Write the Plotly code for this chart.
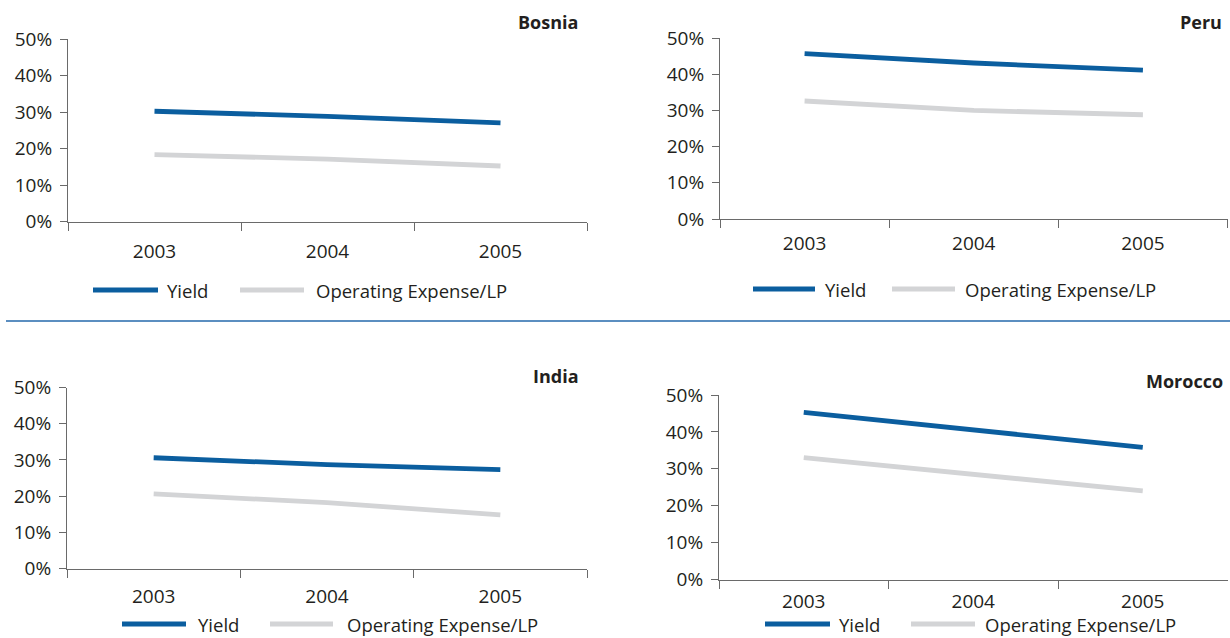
import plotly.graph_objects as go

W, H = 1230, 638

years = ["2003", "2004", "2005"]
series_names = ["Yield", "Operating Expense/LP"]
countries = ["Bosnia", "Peru", "India", "Morocco"]

bosnia_yield = [30.2, 28.8, 27.0]
bosnia_opex = [18.3, 17.1, 15.2]
peru_yield = [45.7, 43.1, 41.1]
peru_opex = [32.6, 30.0, 28.8]
india_yield = [30.6, 28.7, 27.3]
india_opex = [20.6, 18.2, 14.8]
morocco_yield = [45.3, 40.5, 35.8]
morocco_opex = [33.0, 28.5, 24.0]

y_ticks = [0, 10, 20, 30, 40, 50]
y_tick_labels = ["0%", "10%", "20%", "30%", "40%", "50%"]

BLUE = "#0b5e9f"
GRAY = "#d3d4d6"
TEXT = "#231f20"
AXIS = "#6a6a6a"
FONT = "Open Sans"

def px(x):
    return x / W

def py(y):
    return 1 - y / H

# panel geometry in pixels: (left, right, top, bottom)
panels = [
    dict(name=countries[0], yld=bosnia_yield, opx=bosnia_opex, box=(68, 587, 39, 221.5),
         title=(580, 22), legend=(93, 158, 165, 240, 304, 314, 290), stand=13),
    dict(name=countries[1], yld=peru_yield, opx=peru_opex, box=(720, 1227.5, 38, 219),
         title=(1224, 22), legend=(753, 815, 823, 892, 955, 963, 289), stand=7),
    dict(name=countries[2], yld=india_yield, opx=india_opex, box=(67, 587, 387.5, 568.5),
         title=(581, 376), legend=(122, 186, 196, 270, 333, 345, 624), stand=11),
    dict(name=countries[3], yld=morocco_yield, opx=morocco_opex, box=(719, 1227.5, 395, 579.5),
         title=(1225, 381), legend=(765, 830, 837, 911, 975, 983, 624), stand=5),
]

fig = go.Figure()
shapes = []
annotations = []
layout = {}

for i, p in enumerate(panels, start=1):
    sx = "" if i == 1 else str(i)
    xa, ya = "x" + sx, "y" + sx
    l, r, t, b = p["box"]
    fig.add_trace(go.Scatter(x=years, y=p["opx"], mode="lines", name=series_names[1],
                             line=dict(color=GRAY, width=4.8), xaxis=xa, yaxis=ya,
                             showlegend=False))
    fig.add_trace(go.Scatter(x=years, y=p["yld"], mode="lines", name=series_names[0],
                             line=dict(color=BLUE, width=4.8), xaxis=xa, yaxis=ya,
                             showlegend=False))
    layout["xaxis" + sx] = dict(
        domain=[px(l), px(r)], anchor=ya, type="category", range=[-0.5, 2.5],
        tickson="boundaries", ticks="outside", ticklen=8, tickwidth=1, tickcolor=AXIS,
        showline=True, linecolor=AXIS, linewidth=1, showgrid=False, zeroline=False,
        tickfont=dict(family=FONT, size=19, color=TEXT), ticklabelstandoff=p["stand"],
        automargin=False, fixedrange=True,
    )
    layout["yaxis" + sx] = dict(
        domain=[py(b), py(t)], anchor=xa, range=[0, 50], tickmode="array",
        tickvals=y_ticks, ticktext=y_tick_labels, ticks="outside", ticklen=7, tickwidth=1,
        tickcolor=AXIS, showline=True, linecolor=AXIS, linewidth=1, showgrid=False,
        zeroline=False, tickfont=dict(family=FONT, size=19, color=TEXT),
        ticklabelstandoff=4, automargin=False, fixedrange=True,
    )
    # panel title
    tx, ty = p["title"]
    annotations.append(dict(text="<b>" + p["name"] + "</b>", x=px(tx), y=py(ty), xref="paper",
                            yref="paper", xanchor="right", yanchor="middle", showarrow=False,
                            font=dict(family=FONT, size=18, color=TEXT)))
    # legend
    b0, b1, ytx, g0, g1, otx, ly = p["legend"]
    shapes.append(dict(type="line", xref="paper", yref="paper", x0=px(b0), x1=px(b1),
                       y0=py(ly), y1=py(ly), line=dict(color=BLUE, width=4.8)))
    shapes.append(dict(type="line", xref="paper", yref="paper", x0=px(g0), x1=px(g1),
                       y0=py(ly), y1=py(ly), line=dict(color=GRAY, width=4.8)))
    annotations.append(dict(text=series_names[0], x=px(ytx), y=py(ly), xref="paper", yref="paper",
                            xanchor="left", yanchor="middle", showarrow=False,
                            font=dict(family=FONT, size=18.5, color=TEXT)))
    annotations.append(dict(text=series_names[1], x=px(otx), y=py(ly), xref="paper", yref="paper",
                            xanchor="left", yanchor="middle", showarrow=False,
                            font=dict(family=FONT, size=18.5, color=TEXT)))

# separator line between rows
shapes.append(dict(type="line", xref="paper", yref="paper", x0=px(6), x1=1.0,
                   y0=py(321), y1=py(321), line=dict(color="#5b8ec0", width=2)))

fig.update_layout(
    template="none",
    width=W, height=H, margin=dict(l=0, r=0, t=0, b=0, pad=0),
    paper_bgcolor="white", plot_bgcolor="white",
    shapes=shapes, annotations=annotations, showlegend=False,
    **layout,
)

fig.write_html("out.html", config={"displayModeBar": False})
